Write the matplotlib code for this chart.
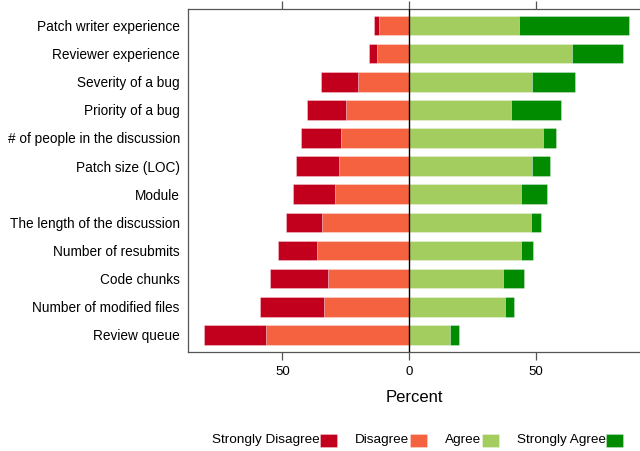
import matplotlib
matplotlib.use("Agg")
import matplotlib.pyplot as plt
from matplotlib.patches import Rectangle
import numpy as np

plt.rcParams['font.family'] = ['Liberation Sans', 'DejaVu Sans']

factors = [
    "Patch writer experience",
    "Reviewer experience",
    "Severity of a bug",
    "Priority of a bug",
    "# of people in the discussion",
    "Patch size (LOC)",
    "Module",
    "The length of the discussion",
    "Number of resubmits",
    "Code chunks",
    "Number of modified files",
    "Review queue",
]
strongly_disagree = [1.8, 3.3, 14.4, 15.5, 15.6, 17.2, 16.8, 14.4, 15.2, 23.0, 25.2, 24.2]
disagree = [12.0, 12.6, 20.3, 24.9, 27.0, 27.5, 29.2, 34.2, 36.4, 32.0, 33.7, 56.6]
agree = [43.2, 64.1, 48.4, 40.1, 52.8, 48.4, 44.1, 48.0, 44.0, 37.0, 38.0, 16.2]
strongly_agree = [43.5, 20.4, 17.1, 19.8, 5.1, 7.3, 10.3, 3.9, 4.7, 8.4, 3.3, 3.4]

levels = ["Strongly Disagree", "Disagree", "Agree", "Strongly Agree"]
colors = ["#C2001E", "#F5623F", "#A4CD5F", "#008B00"]

fig = plt.figure(figsize=(6.4, 4.51), dpi=100)
ax = fig.add_axes([0.294, 0.220, 0.706, 0.761])

y = np.arange(len(factors))
sd = np.array(strongly_disagree)
d = np.array(disagree)
a = np.array(agree)
sa = np.array(strongly_agree)

h = 0.7
ek = dict(height=h, edgecolor=(1, 1, 1, 0.35), linewidth=0.6)
ax.barh(y, -d, left=0, color=colors[1], **ek)
ax.barh(y, -sd, left=-d, color=colors[0], **ek)
ax.barh(y, a, left=0, color=colors[2], **ek)
ax.barh(y, sa, left=a, color=colors[3], **ek)

ax.axvline(0, color="black", linewidth=1.0, zorder=3)

ax.set_ylim(len(factors) - 0.4, -0.6)
ax.set_xlim(-87.2, 91.1)
ax.set_yticks(y)
ax.set_yticklabels(factors, fontsize=9.8)
ax.tick_params(axis='y', length=0, pad=6)

ax.set_xticks([-50, 0, 50])
ax.set_xticklabels(["50", "0", "50"], fontsize=9.5)
ax.tick_params(axis='x', which='both', direction='out', length=6, width=0.9,
               color="#555555", top=True, labeltop=False, pad=4)
for s in ax.spines.values():
    s.set_color("#555555")
    s.set_linewidth(0.9)
ax.spines['right'].set_visible(False)

ax.set_xlabel("Percent", fontsize=12, labelpad=9)

# legend row under the plot
fig_w, fig_h = 640.0, 451.0
legend_swatch_x = [320, 410, 482, 606]
for sx, lab, col in zip(legend_swatch_x, levels, colors):
    fig.text(sx / fig_w - 0.5 / fig_w, 1 - 440.5 / fig_h, lab, ha='right', va='center',
             fontsize=9.7)
    fig.patches.append(Rectangle((sx / fig_w, 1 - 447 / fig_h), 17 / fig_w, 13 / fig_h,
                                 transform=fig.transFigure, facecolor=col,
                                 edgecolor=(1, 1, 1, 0.4), linewidth=0.5))

fig.savefig("out.png", dpi=100)
